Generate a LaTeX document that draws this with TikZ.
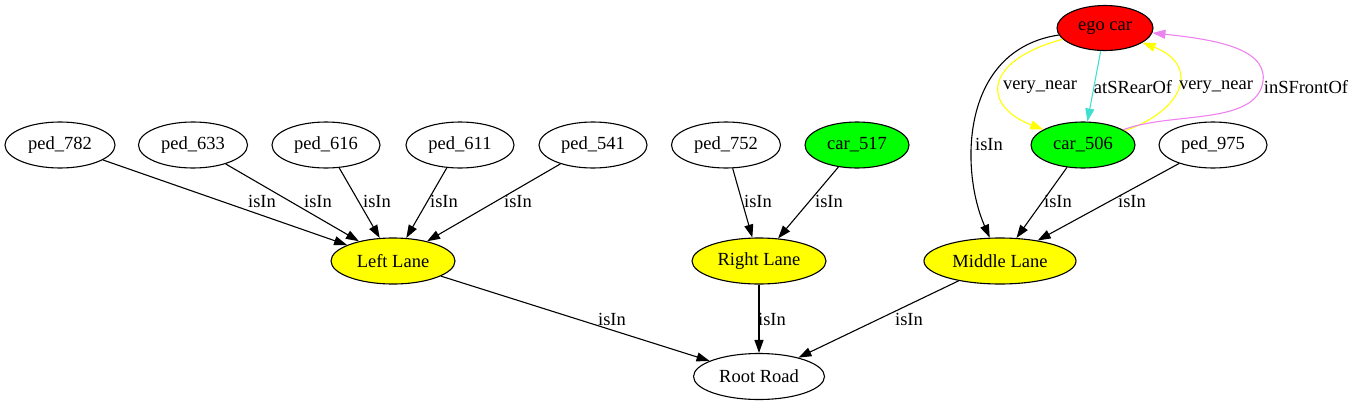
\documentclass[tikz,border=0pt]{standalone}
\usepackage{fontspec}
\setmainfont{Liberation Serif}
\usetikzlibrary{shapes.geometric,arrows.meta}
\definecolor{gvred}{HTML}{FF0000}
\definecolor{gvgreen}{HTML}{00FF00}
\definecolor{gvyellow}{HTML}{FFFF00}
\definecolor{gvturq}{HTML}{40E0D0}
\definecolor{gvviolet}{HTML}{EE82EE}
\begin{document}
\begin{tikzpicture}[x=1pt,y=-1pt,
  gnode/.style={ellipse,draw=black,line width=1.1pt,inner sep=0pt,minimum height=46pt,font=\fontsize{18.5}{22}\selectfont},
  lbl/.style={inner sep=0pt,font=\fontsize{18.5}{22}\selectfont},
  conn/.style={line width=1.1pt,-{Triangle[length=13pt,width=9pt]}}]
\useasboundingbox (0,0) rectangle (1353,407);

% nodes
\node[gnode,fill=gvred,minimum width=96pt,minimum height=45pt] (ego) at (1105,28) {ego car};
\node[gnode,fill=gvgreen,minimum width=104pt] (car506) at (1083,145) {car\_506};
\node[gnode,minimum width=108pt] (ped975) at (1213,145) {ped\_975};
\node[gnode,minimum width=110pt] (ped782) at (60,145) {ped\_782};
\node[gnode,minimum width=109pt] (ped633) at (193,145) {ped\_633};
\node[gnode,minimum width=108pt] (ped616) at (326,145) {ped\_616};
\node[gnode,minimum width=108pt] (ped611) at (460,145) {ped\_611};
\node[gnode,minimum width=108pt] (ped541) at (593,145) {ped\_541};
\node[gnode,minimum width=109pt] (ped752) at (726,145) {ped\_752};
\node[gnode,fill=gvgreen,minimum width=104pt] (car517) at (857,145) {car\_517};
\node[gnode,fill=gvyellow,minimum width=124pt] (LL) at (393,261) {Left Lane};
\node[gnode,fill=gvyellow,minimum width=134pt] (RL) at (759,261) {Right Lane};
\node[gnode,fill=gvyellow,minimum width=152pt] (ML) at (1000,261) {Middle Lane};
\node[gnode,minimum width=131pt] (root) at (759,376.5) {Root Road};

% edges to Left Lane
\draw[conn] (ped782) -- (LL);
\draw[conn] (ped633) -- (LL);
\draw[conn] (ped616) -- (LL);
\draw[conn] (ped611) -- (LL);
\draw[conn] (ped541) -- (LL);
\node[lbl] (l782) at (262,201) {isIn};
\node[lbl] (l633) at (318,201) {isIn};
\node[lbl] (l616) at (377,201) {isIn};
\node[lbl] (l611) at (444,201) {isIn};
\node[lbl] (l541) at (518,201) {isIn};

% edges to Right Lane
\draw[conn] (ped752) -- (RL);
\draw[conn] (car517) -- (RL);
\node[lbl] (l752) at (758,201) {isIn};
\node[lbl] (l517) at (829,201) {isIn};

% edges to Middle Lane
\draw[conn] (car506) -- (ML);
\draw[conn] (ped975) -- (ML);
\node[lbl] (l506) at (1058,201) {isIn};
\node[lbl] (l975) at (1132,201) {isIn};
\draw[conn] (ego) .. controls (960,50) and (960,170) .. (ML);
\node[lbl] (lego) at (989,144) {isIn};

% ego car relations
\draw[conn,draw=gvyellow,-{Triangle[length=13pt,width=9pt,fill=gvyellow]}] (ego) .. controls (985,60) and (980,105) .. (car506);
\node[lbl] (lvn1) at (1040,87) {very\_near};
\draw[conn,draw=gvturq,-{Triangle[length=13pt,width=9pt,fill=gvturq]}] (ego) -- (car506);
\node[lbl] (lrear) at (1133,87) {atSRearOf};
\draw[conn,draw=gvyellow,-{Triangle[length=13pt,width=9pt,fill=gvyellow]}] (car506) .. controls (1185,110) and (1200,65) .. (ego);
\node[lbl] (lvn2) at (1216,87) {very\_near};
\draw[conn,draw=gvviolet,-{Triangle[length=13pt,width=9pt,fill=gvviolet]}] (car506) .. controls (1170,112) and (1250,125) .. (1262,86) .. controls (1272,50) and (1220,40) .. (ego);
\node[lbl] (lfront) at (1306,87) {inSFrontOf};

% lanes to root
\draw[conn] (LL) -- (root);
\draw[conn] (RL) -- (root);
\draw[conn] (ML) -- (root);
\node[lbl] (lLL) at (612,319) {isIn};
\node[lbl] (lRL) at (772,319) {isIn};
\node[lbl] (lML) at (909,319) {isIn};
\end{tikzpicture}
\end{document}
